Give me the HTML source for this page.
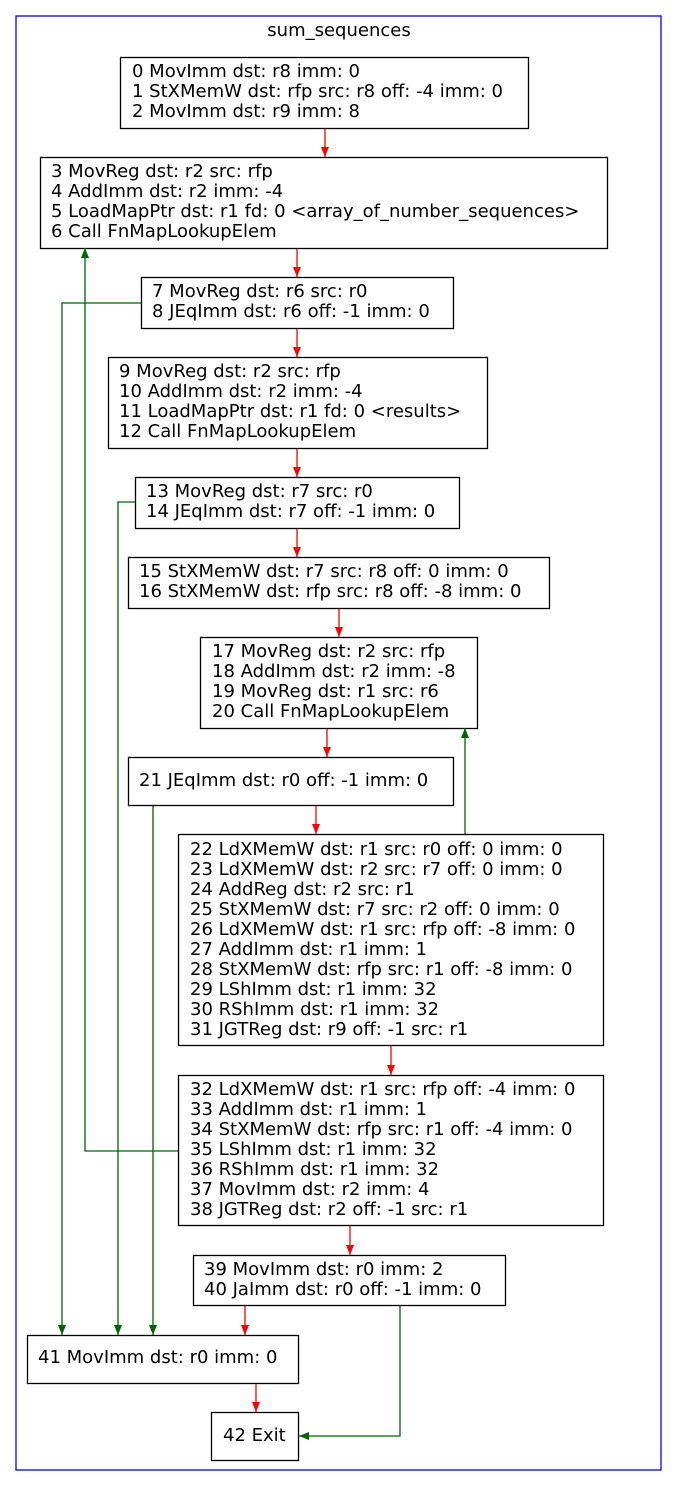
<!DOCTYPE html>
<html><head><meta charset="utf-8"><style>
html,body{margin:0;padding:0;background:#fff;}
svg{display:block;}
text{font-family:"DejaVu Sans","Liberation Sans",sans-serif;font-size:18px;fill:#000;}
</style></head><body>
<svg width="677" height="1487" viewBox="0 0 677 1487" xmlns="http://www.w3.org/2000/svg">
<defs>
<marker id="r" markerWidth="10" markerHeight="8" refX="10" refY="4" orient="auto" markerUnits="userSpaceOnUse"><path d="M0,0 L10,4 L0,8 z" fill="#ff0000"/></marker>
<marker id="g" markerWidth="10" markerHeight="8" refX="10" refY="4" orient="auto" markerUnits="userSpaceOnUse"><path d="M0,0 L10,4 L0,8 z" fill="#006400"/></marker>
</defs>
<rect x="16" y="16" width="645" height="1454" fill="none" stroke="#0000ff" stroke-width="1.3"/>
<text x="339" y="36" text-anchor="middle">sum_sequences</text>

<g fill="none" stroke="#000" stroke-width="1.3">
<rect x="120.5" y="57.5" width="408" height="71"/>
<rect x="40.5" y="157.5" width="567" height="91"/>
<rect x="141.5" y="277.5" width="312" height="51"/>
<rect x="108.5" y="357.5" width="379" height="91"/>
<rect x="135.5" y="477.5" width="324" height="51"/>
<rect x="128.5" y="557.5" width="421" height="51"/>
<rect x="200.5" y="637.5" width="277" height="91"/>
<rect x="128.5" y="757.5" width="325" height="48"/>
<rect x="178.5" y="834.5" width="425" height="211"/>
<rect x="178.5" y="1075.5" width="425" height="150"/>
<rect x="193.5" y="1255.5" width="312" height="50"/>
<rect x="27.5" y="1335.5" width="271" height="48"/>
<rect x="211.5" y="1412.5" width="87" height="48"/>
</g>

<g fill="none" stroke="#ff0000" stroke-width="1.3">
<line x1="325" y1="129" x2="325" y2="157" marker-end="url(#r)"/>
<line x1="297" y1="249" x2="297" y2="277" marker-end="url(#r)"/>
<line x1="297" y1="329" x2="297" y2="357" marker-end="url(#r)"/>
<line x1="297" y1="449" x2="297" y2="477" marker-end="url(#r)"/>
<line x1="297" y1="529" x2="297" y2="557" marker-end="url(#r)"/>
<line x1="339" y1="609" x2="339" y2="637" marker-end="url(#r)"/>
<line x1="327" y1="729" x2="327" y2="757" marker-end="url(#r)"/>
<line x1="316" y1="806" x2="316" y2="834" marker-end="url(#r)"/>
<line x1="391" y1="1046" x2="391" y2="1075" marker-end="url(#r)"/>
<line x1="350" y1="1226" x2="350" y2="1255" marker-end="url(#r)"/>
<line x1="245" y1="1306" x2="245" y2="1335" marker-end="url(#r)"/>
<line x1="256" y1="1384" x2="256" y2="1412" marker-end="url(#r)"/>
</g>

<g fill="none" stroke="#006400" stroke-width="1.3">
<polyline points="141,303 62,303 62,1335" marker-end="url(#g)"/>
<polyline points="178,1151 85,1151 85,248" marker-end="url(#g)"/>
<polyline points="135,502 118,502 118,1335" marker-end="url(#g)"/>
<polyline points="153,806 153,1335" marker-end="url(#g)"/>
<polyline points="465,834 465,728" marker-end="url(#g)"/>
<polyline points="400,1306 400,1436 299,1436" marker-end="url(#g)"/>
</g>

<text x="132" y="77">0 MovImm dst: r8 imm: 0</text>
<text x="132" y="97">1 StXMemW dst: rfp src: r8 off: -4 imm: 0</text>
<text x="132" y="117">2 MovImm dst: r9 imm: 8</text>

<text x="51" y="177">3 MovReg dst: r2 src: rfp</text>
<text x="51" y="197">4 AddImm dst: r2 imm: -4</text>
<text x="51" y="217">5 LoadMapPtr dst: r1 fd: 0 &lt;array_of_number_sequences&gt;</text>
<text x="51" y="237">6 Call FnMapLookupElem</text>

<text x="152" y="297">7 MovReg dst: r6 src: r0</text>
<text x="152" y="317">8 JEqImm dst: r6 off: -1 imm: 0</text>

<text x="119" y="377">9 MovReg dst: r2 src: rfp</text>
<text x="119" y="397">10 AddImm dst: r2 imm: -4</text>
<text x="119" y="417">11 LoadMapPtr dst: r1 fd: 0 &lt;results&gt;</text>
<text x="119" y="437">12 Call FnMapLookupElem</text>

<text x="146" y="497">13 MovReg dst: r7 src: r0</text>
<text x="146" y="517">14 JEqImm dst: r7 off: -1 imm: 0</text>

<text x="139" y="577">15 StXMemW dst: r7 src: r8 off: 0 imm: 0</text>
<text x="139" y="597">16 StXMemW dst: rfp src: r8 off: -8 imm: 0</text>

<text x="212" y="657">17 MovReg dst: r2 src: rfp</text>
<text x="212" y="677">18 AddImm dst: r2 imm: -8</text>
<text x="212" y="697">19 MovReg dst: r1 src: r6</text>
<text x="212" y="717">20 Call FnMapLookupElem</text>

<text x="139" y="786">21 JEqImm dst: r0 off: -1 imm: 0</text>

<text x="190" y="855">22 LdXMemW dst: r1 src: r0 off: 0 imm: 0</text>
<text x="190" y="875">23 LdXMemW dst: r2 src: r7 off: 0 imm: 0</text>
<text x="190" y="895">24 AddReg dst: r2 src: r1</text>
<text x="190" y="915">25 StXMemW dst: r7 src: r2 off: 0 imm: 0</text>
<text x="190" y="935">26 LdXMemW dst: r1 src: rfp off: -8 imm: 0</text>
<text x="190" y="955">27 AddImm dst: r1 imm: 1</text>
<text x="190" y="975">28 StXMemW dst: rfp src: r1 off: -8 imm: 0</text>
<text x="190" y="995">29 LShImm dst: r1 imm: 32</text>
<text x="190" y="1015">30 RShImm dst: r1 imm: 32</text>
<text x="190" y="1035">31 JGTReg dst: r9 off: -1 src: r1</text>

<text x="190" y="1095">32 LdXMemW dst: r1 src: rfp off: -4 imm: 0</text>
<text x="190" y="1115">33 AddImm dst: r1 imm: 1</text>
<text x="190" y="1135">34 StXMemW dst: rfp src: r1 off: -4 imm: 0</text>
<text x="190" y="1155">35 LShImm dst: r1 imm: 32</text>
<text x="190" y="1175">36 RShImm dst: r1 imm: 32</text>
<text x="190" y="1195">37 MovImm dst: r2 imm: 4</text>
<text x="190" y="1215">38 JGTReg dst: r2 off: -1 src: r1</text>

<text x="204" y="1275">39 MovImm dst: r0 imm: 2</text>
<text x="204" y="1295">40 JaImm dst: r0 off: -1 imm: 0</text>

<text x="38" y="1363">41 MovImm dst: r0 imm: 0</text>

<text x="223" y="1441">42 Exit</text>
</svg>
</body></html>
